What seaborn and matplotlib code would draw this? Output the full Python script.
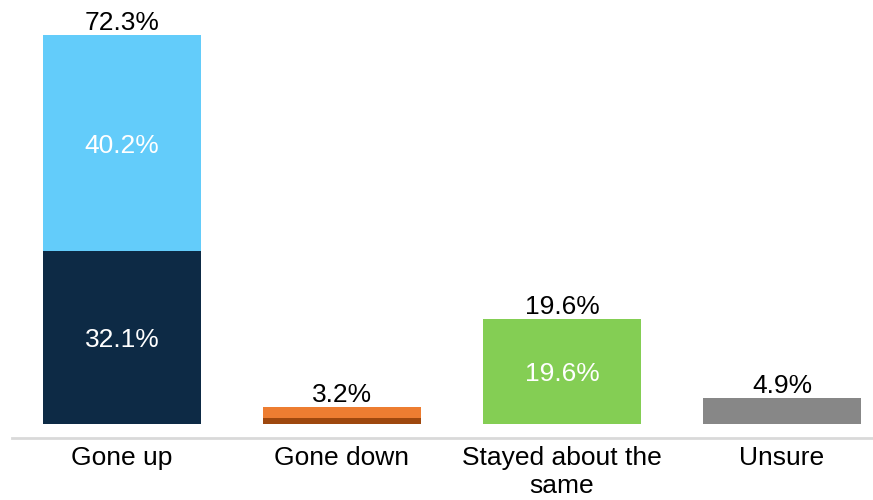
import matplotlib
matplotlib.use('Agg')
import matplotlib.pyplot as plt
import seaborn as sns
import pandas as pd

# Chart data
categories = ['Gone up', 'Gone down', 'Stayed about the\nsame', 'Unsure']
lower = [32.1, 1.1, 19.6, 4.9]
upper = [40.2, 2.1, 0.0, 0.0]
lower_colors = ['#0D2A45', '#9E480E', '#84CE54', '#878787']
upper_colors = ['#63CCFA', '#ED7D31', '#84CE54', '#878787']

totals = [round(a + b, 1) for a, b in zip(lower, upper)]

sns.set_style('white')
plt.rcParams['font.family'] = ['Liberation Sans', 'DejaVu Sans']

df = pd.DataFrame({'category': categories, 'lower': lower, 'upper': upper, 'total': totals})

fig = plt.figure(figsize=(8.73, 5.0), dpi=100)
ax = fig.add_axes([12 / 873, 0.125, 861 / 873, 0.8556])

# Stacked bars: totals first (top colour), then lower segment over them
sns.barplot(data=df, x='category', y='total', hue='category',
            palette=dict(zip(categories, upper_colors)), legend=False,
            width=0.72, saturation=1, linewidth=0, ax=ax)
sns.barplot(data=df, x='category', y='lower', hue='category',
            palette=dict(zip(categories, lower_colors)), legend=False,
            width=0.72, saturation=1, linewidth=0, ax=ax)

# Labels inside segments
for i, (lo, up) in enumerate(zip(lower, upper)):
    if lo >= 8:
        ax.text(i, lo / 2, f'{lo:.1f}%', ha='center', va='center_baseline',
                color='white', fontsize=19)
    if up >= 8:
        ax.text(i, lo + up / 2, f'{up:.1f}%', ha='center', va='center_baseline',
                color='white', fontsize=19)

# Totals above bars
for i, t in enumerate(totals):
    ax.annotate(f'{t:.1f}%', (i, t), xytext=(0, 0), textcoords='offset points',
                ha='center', va='bottom', fontsize=19, color='black')

ax.set_ylim(-2.5, 77)
ax.set_xlim(-0.5, 3.5 - 19 / 220)
ax.set_yticks([])
ax.set_xlabel('')
ax.set_ylabel('')
ax.tick_params(axis='x', length=0, labelsize=19, pad=6, labelcolor='black')
for lbl in ax.get_xticklabels():
    lbl.set_linespacing(1.2)
for side in ['top', 'right', 'left']:
    ax.spines[side].set_visible(False)
ax.spines['bottom'].set_color('#D9D9D9')
ax.spines['bottom'].set_linewidth(2)

plt.savefig('out.png', dpi=100)
plt.close()
